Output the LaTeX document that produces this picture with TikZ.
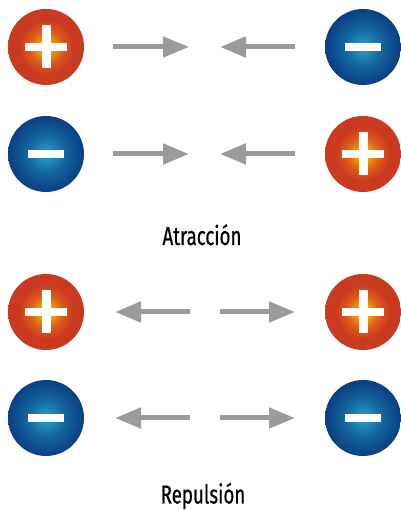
\documentclass[tikz,border=0pt]{standalone}
\usepackage{fontspec}
\setmainfont{Fira Sans}[FakeStretch=0.72]
\newfontfamily\capfont{Fira Sans}[FakeStretch=0.72, FakeBold=0.6]
\usetikzlibrary{arrows.meta,calc}
\definecolor{redout}{HTML}{C93A20}
\definecolor{redmid}{HTML}{DE5A1A}
\definecolor{redin}{HTML}{F7B800}
\definecolor{blueout}{HTML}{0B3F82}
\definecolor{bluemid}{HTML}{1467A0}
\definecolor{bluein}{HTML}{2AA3C6}
\definecolor{arrowgray}{HTML}{9B9B9B}
\pgfdeclareradialshading{redball}{\pgfpoint{0bp}{0bp}}{color(0bp)=(redin); color(5bp)=(redin!70!redmid); color(11bp)=(redmid); color(18bp)=(redout); color(50bp)=(redout)}
\pgfdeclareradialshading{blueball}{\pgfpoint{0bp}{0bp}}{color(0bp)=(bluein); color(12bp)=(bluemid); color(25bp)=(blueout); color(50bp)=(blueout)}
\tikzset{
  x=1pt, y=1pt,
  ballbase/.style={circle, minimum size=76pt, inner sep=0pt},
  posball/.style={ballbase, shading=redball, path picture={
      \fill[white] ($(path picture bounding box.center)+(-21pt,-4pt)$) rectangle ++(42pt,8pt);
      \fill[white] ($(path picture bounding box.center)+(-4.5pt,-21.5pt)$) rectangle ++(9pt,43pt);}},
  negball/.style={ballbase, shading=blueball, path picture={
      \fill[white] ($(path picture bounding box.center)+(-18pt,-4pt)$) rectangle ++(36pt,8pt);}},
  forcearrow/.style={draw=arrowgray, line width=5pt, -{Triangle[length=26pt,width=20pt]}, arrowgray},
  captiontext/.style={font=\capfont\fontsize{26}{30}\selectfont, anchor=base, inner sep=0pt}
}
\begin{document}
\begin{tikzpicture}
\useasboundingbox (0,0) rectangle (401,511);
% row 1
\node[posball] (p1) at (46,464) {};
\node[negball] (n1) at (363,464) {};
% row 2
\node[negball] (n2) at (46,357) {};
\node[posball] (p2) at (363,357) {};
% row 3
\node[posball] (p3) at (46,199) {};
\node[posball] (p4) at (363,199) {};
% row 4
\node[negball] (n3) at (46,93) {};
\node[negball] (n4) at (363,93) {};
% arrow coordinates
\coordinate (a1s) at (113,464); \coordinate (a1e) at (189,464);
\coordinate (b1s) at (295,464); \coordinate (b1e) at (220,464);
\coordinate (a2s) at (113,357); \coordinate (a2e) at (189,357);
\coordinate (b2s) at (295,357); \coordinate (b2e) at (220,357);
\coordinate (a3s) at (190,199); \coordinate (a3e) at (115,199);
\coordinate (b3s) at (220,199); \coordinate (b3e) at (295,199);
\coordinate (a4s) at (190,93); \coordinate (a4e) at (115,93);
\coordinate (b4s) at (220,93); \coordinate (b4e) at (295,93);
\draw[forcearrow] (a1s) -- (a1e);
\draw[forcearrow] (b1s) -- (b1e);
\draw[forcearrow] (a2s) -- (a2e);
\draw[forcearrow] (b2s) -- (b2e);
\draw[forcearrow] (a3s) -- (a3e);
\draw[forcearrow] (b3s) -- (b3e);
\draw[forcearrow] (a4s) -- (a4e);
\draw[forcearrow] (b4s) -- (b4e);
\node[captiontext] (t1) at (202,266) {Atracción};
\node[captiontext] (t2) at (203,7.5) {Repulsión};
\end{tikzpicture}
\end{document}
